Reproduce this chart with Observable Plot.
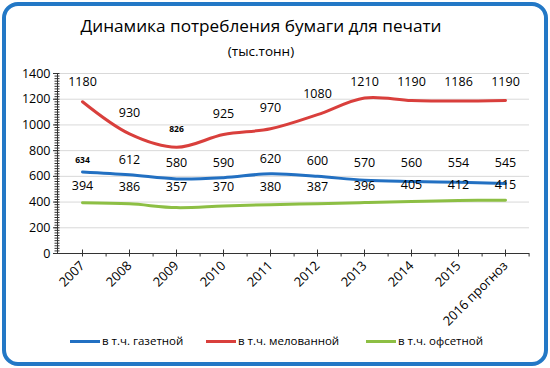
<!DOCTYPE html>
<html>
<head>
<meta charset="utf-8">
<script src="https://cdn.jsdelivr.net/npm/d3@7"></script>
<script src="https://cdn.jsdelivr.net/npm/@observablehq/plot@0.6"></script>
<style>
  html, body { margin: 0; padding: 0; background: #fff; }
  #wrap { position: relative; width: 550px; height: 368px; overflow: hidden; font-family: "Open Sans", sans-serif; color: #000; }
  #border { position: absolute; left: 2px; top: 2px; width: 538px; height: 356px; border: 4px solid #2378c6; border-radius: 16px; }
  #title { position: absolute; left: 0; width: 522px; top: 14px; text-align: center; font-size: 17.2px; line-height: 24px; }
  #subtitle { position: absolute; left: 0; width: 522px; top: 42px; text-align: center; font-size: 13.5px; line-height: 18px; }
  #chart { position: absolute; left: 0; top: 60px; }
  .leg { position: absolute; top: 332px; display: flex; align-items: center; font-size: 11.5px; line-height: 18px; }
  .sw { width: 30px; height: 3px; margin-right: 2px; }
</style>
</head>
<body>
<div id="wrap">
  <div id="border"></div>
  <div id="title">Динамика потребления бумаги для печати</div>
  <div id="subtitle">(тыс.тонн)</div>
  <div id="chart"></div>
  <div id="legend"></div>
</div>
<script>
// ---- data ----
const years = ["2007", "2008", "2009", "2010", "2011", "2012", "2013", "2014", "2015", "2016 прогноз"];
const newsprint = [634, 612, 580, 590, 620, 600, 570, 560, 554, 545];   // в т.ч. газетной
const coated    = [1180, 930, 826, 925, 970, 1080, 1210, 1190, 1186, 1190]; // в т.ч. мелованной
const offset    = [394, 386, 357, 370, 380, 387, 396, 405, 412, 415];   // в т.ч. офсетной
const seriesNames = ["в т.ч. газетной", "в т.ч. мелованной", "в т.ч. офсетной"];
const yTicks = [0, 200, 400, 600, 800, 1000, 1200, 1400];

// ---- styling ----
const colors = ["#2270c2", "#d93f3c", "#8dbf44"];
const smallLabels = new Set(["0-2007", "1-2009"]);
const W = 550, H = 270, ML = 57, MR = 21, MT = 13, MB = 77;
const step = (W - ML - MR) / years.length;
const FONT = "Open Sans, sans-serif";

const table = (vals, s) => years.map((year, i) => ({year, v: vals[i], s, key: s + "-" + year}));
const dNews = table(newsprint, 0), dCoat = table(coated, 1), dOff = table(offset, 2);

// label placement rules (avoid overlap, like the source chart)
const labelY = [
  d => Math.max(d.v, 590),
  d => Math.min(d.v, 1170),
  d => Math.min(Math.max(d.v, 385), 400)
];
const labelDy = [-15, -21, -17];

function labels(data) {
  const s = data[0].s;
  return [
    Plot.text(data, {filter: d => !smallLabels.has(d.key), x: "year", y: labelY[s], text: d => String(d.v), dy: labelDy[s], fontSize: 12.5, fill: "#000"}),
    Plot.text(data, {filter: d => smallLabels.has(d.key), x: "year", y: labelY[s], text: d => String(d.v), dy: labelDy[s] + 3, fontSize: 8.5, fontWeight: "bold", fill: "#000"})
  ];
}

const chart = Plot.plot({
  width: W, height: H,
  marginLeft: ML, marginRight: MR, marginTop: MT, marginBottom: MB,
  style: {fontFamily: FONT, fontSize: "12.5px", color: "#000", background: "transparent", overflow: "visible"},
  x: {type: "point", domain: years, padding: 0.5, label: null},
  y: {domain: [0, 1400], label: null},
  marks: [
    Plot.ruleY(yTicks.filter(t => t > 0), {stroke: "#d9d9d9", strokeWidth: 1}),
    Plot.ruleY([0], {stroke: "#333", strokeWidth: 1}),
    Plot.frame({anchor: "left", stroke: "#333"}),
    Plot.axisY({ticks: yTicks, tickSize: 4, tickPadding: 3, fontSize: 12.5, stroke: "#333", tickFormat: d => String(d)}),
    Plot.axisY({ticks: d3.range(0, 1401, 20), tickSize: 5, dx: 2.5, tickFormat: () => "", stroke: "#333"}),
    Plot.axisX({ticks: years, tickSize: 7, dy: -3.5, tickFormat: () => "", stroke: "#333"}),
    Plot.axisX({ticks: years, tickSize: 3.5, dx: step / 2, tickFormat: () => "", stroke: "#333"}),
    Plot.axisX({ticks: years, tickSize: 0, tickPadding: 10, tickRotate: -45, fontSize: 13}),
    Plot.line(dCoat, {x: "year", y: "v", stroke: colors[1], strokeWidth: 3, curve: "catmull-rom"}),
    Plot.line(dNews, {x: "year", y: "v", stroke: colors[0], strokeWidth: 3, curve: "catmull-rom"}),
    Plot.line(dOff, {x: "year", y: "v", stroke: colors[2], strokeWidth: 3, curve: "catmull-rom"}),
    ...labels(dCoat),
    ...labels(dNews),
    ...labels(dOff)
  ]
});
document.getElementById("chart").appendChild(chart);

// legend
const legLeft = [70, 206, 366];
const legend = document.getElementById("legend");
seriesNames.forEach((name, i) => {
  const item = document.createElement("div");
  item.className = "leg";
  item.style.left = legLeft[i] + "px";
  const sw = document.createElement("div");
  sw.className = "sw";
  sw.style.background = colors[i];
  const tx = document.createElement("span");
  tx.textContent = name;
  item.appendChild(sw);
  item.appendChild(tx);
  legend.appendChild(item);
});
</script>
</body>
</html>
